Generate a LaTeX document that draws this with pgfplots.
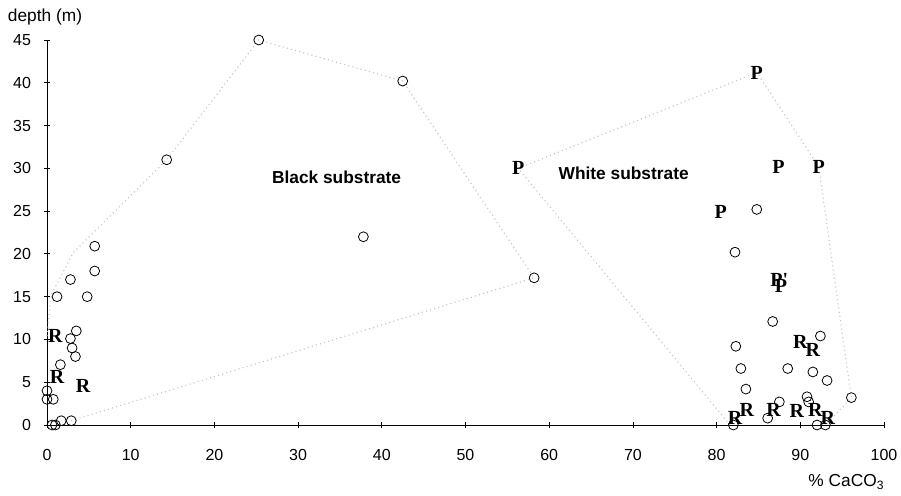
\documentclass[border=0pt]{standalone}
\usepackage{pgfplots}
\pgfplotsset{compat=1.18}
\usepackage{fontspec}
\setmainfont{Liberation Sans}
\newfontfamily\rpfont{Liberation Serif}
\begin{document}
\begin{tikzpicture}
\begin{axis}[name=ax, scale only axis, width=627.75pt, height=288.75pt,
  xmin=0, xmax=100, ymin=0, ymax=45, enlargelimits=false, clip=false,
  axis lines=left, axis line style={-, line width=0.6pt},
  xtick={0,10,...,100}, ytick={0,5,...,45},
  tick align=center, major tick length=5pt, tick style={black, line width=0.6pt},
  /pgf/number format/assume math mode=true,
  tick label style={font=\fontsize{12}{12}\selectfont},
  xticklabel style={yshift=-12pt},
  yticklabel style={xshift=-6pt},
  xlabel={\% CaCO\textsubscript{3}},
  ylabel={depth (m)},
  xlabel style={at={(axis description cs:0.955,0)}, anchor=center, yshift=-42.5pt, font=\fontsize{13}{13}\selectfont},
  ylabel style={rotate=-90, at={(axis description cs:0,1)}, anchor=center, xshift=-1.5pt, yshift=17.25pt, font=\fontsize{13}{13}\selectfont},
  dotline/.style={gray!45, line width=0.9pt, dash pattern=on 0.8pt off 2.4pt, mark=none},
  circ/.style={only marks, mark=o, mark size=3.7pt, mark options={black, line width=0.6pt}},
  lab/.style={only marks, mark=text, text mark as node=true, text mark={#1}, text mark style={font=\rpfont\bfseries\fontsize{15}{15}\selectfont, inner sep=0pt, text=black}},
]
% envelope lines
\addplot[dotline] coordinates {(2.9,0.5) (58.2,17.2) (42.5,40.2) (25.3,45) (14.3,31) (3.1,20.1) (0.5,15.2) (0,10.4)};
\addplot[dotline] coordinates {(81.6,0) (56.3,30) (84.8,41.2) (92.2,30.2) (96.1,3.2) (93.3,0.3)};
% black substrate samples
\addplot[circ] coordinates {(25.3,45) (42.5,40.2) (14.3,31) (37.8,22) (58.2,17.2)
  (5.7,20.9) (5.7,18.0) (2.8,17.0) (1.2,15.0) (4.8,15.0) (3.5,11.0) (2.8,10.1) (3.0,9.0) (3.4,8.0) (1.6,7.05)
  (0,4.0) (0,3.0) (0.75,3.0) (0.6,0) (1.0,0) (1.7,0.5) (2.9,0.5)};
% white substrate samples
\addplot[circ] coordinates {(84.8,25.2) (82.2,20.2) (86.7,12.1) (82.3,9.2) (92.4,10.4) (82.9,6.6) (88.5,6.6)
  (91.5,6.2) (93.2,5.2) (83.5,4.2) (96.1,3.2) (90.8,3.3) (91.0,2.7) (87.5,2.7) (82.0,0) (86.1,0.8) (92.0,0) (93.0,0)};
% R labels
\addplot[lab=R] coordinates {(1.0,10.4) (1.2,5.6) (4.3,4.6) (90.0,9.7) (91.5,8.8) (82.2,0.8) (83.6,1.8) (86.8,1.8) (89.6,1.6) (91.8,1.8) (93.3,0.8)};
% P labels
\addplot[lab=P] coordinates {(84.8,41.2) (56.3,30.0) (87.4,30.2) (92.2,30.2) (80.5,24.9) (87.7,16.2)};
\addplot[lab={P'}] coordinates {(87.5,17.0)};
\node[font=\bfseries\fontsize{13}{13}\selectfont] at (axis cs:34.6,29.0) {Black substrate};
\node[font=\bfseries\fontsize{13}{13}\selectfont] at (axis cs:68.9,29.4) {White substrate};
\end{axis}
\pgfresetboundingbox
\path ([shift={(-35.25pt,-53.25pt)}]ax.south west) rectangle ([shift={(12.75pt,30pt)}]ax.north east);
\end{tikzpicture}
\end{document}
